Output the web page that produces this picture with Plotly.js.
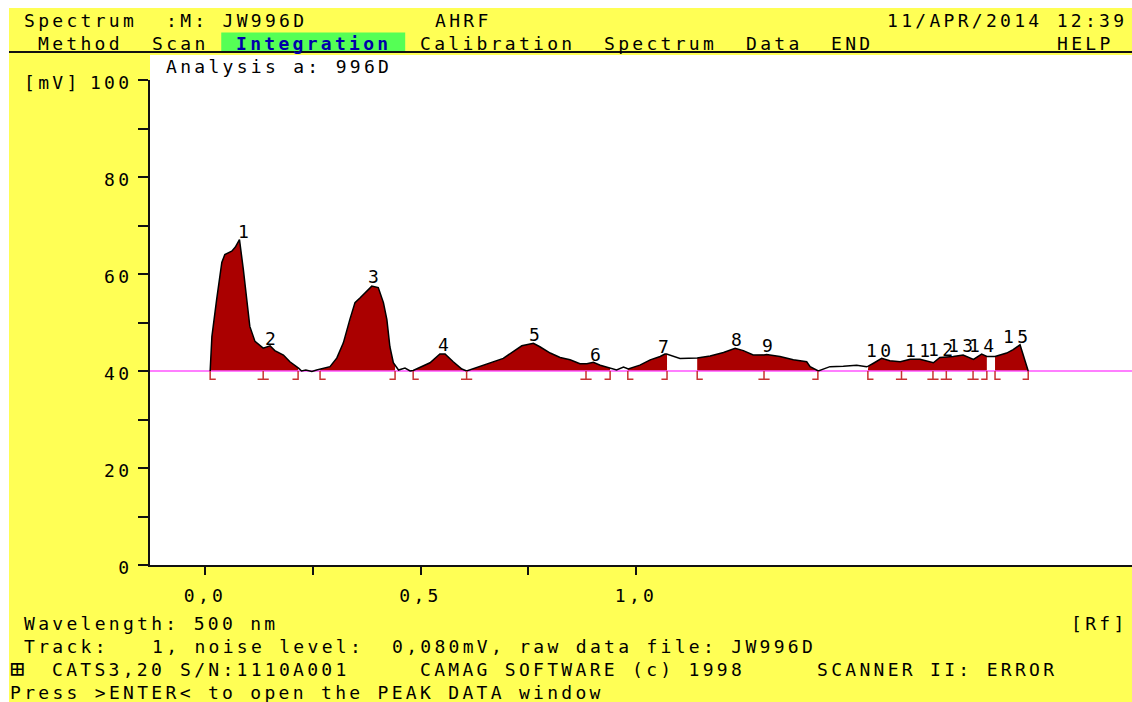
<!DOCTYPE html>
<html><head><meta charset="utf-8">
<script src="https://cdn.plot.ly/plotly-3.0.1.min.js"></script>
<style>
html,body{margin:0;padding:0;background:#ffffff;}
#chart{width:1132px;height:702px;}
text{letter-spacing:3.3px;}
</style></head><body><div id="chart"></div>
<script>
// ---- densitogram signal (Rf, mV) ----
const rf = [0.012,0.016,0.027,0.039,0.046,0.062,0.070,0.080,0.089,0.097,0.104,0.116,0.135,0.151,0.162,0.182,0.197,0.217,0.224,0.234,0.248,0.259,
0.290,0.306,0.321,0.336,0.348,0.360,0.375,0.387,0.402,0.414,0.422,0.429,0.437,0.449,0.464,0.476,
0.483,0.507,0.522,0.545,0.557,0.576,0.596,0.607,0.638,0.669,0.692,0.715,0.735,0.762,0.777,0.801,0.824,0.847,0.870,0.886,0.901,0.917,0.940,0.955,0.971,0.982,
1.009,1.033,1.056,1.067,1.071,1.102,1.142,1.172,1.203,1.230,1.249,1.272,1.297,1.303,1.334,1.365,1.396,1.404,1.423,1.450,1.481,1.512,1.535,
1.539,1.551,1.570,1.589,1.613,1.636,1.659,1.690,1.705,1.736,1.759,1.783,1.802,1.814,1.833,1.860,1.875,1.891,1.910];
const mv = [40.0,47.1,54.7,62.4,64.0,64.7,65.5,67.1,60.9,54.1,49.2,46.1,44.7,45.2,44.2,43.3,41.9,40.6,40.0,40.2,39.9,40.2,
40.9,42.7,45.8,50.6,54.1,55.1,56.4,57.5,57.2,54.1,50.6,45.0,41.7,40.2,40.6,40.0,
40.1,41.1,41.7,43.5,43.5,41.9,40.4,40.0,40.9,41.9,42.6,44.0,45.2,45.7,45.0,43.7,42.8,42.3,41.5,41.5,41.8,41.2,40.6,40.2,40.8,40.4,
41.2,42.3,43.0,43.5,43.5,42.6,42.7,43.1,43.8,44.7,44.2,43.3,43.3,43.4,43.0,42.3,41.9,40.9,40.0,40.9,41.0,41.2,40.9,
41.0,41.6,42.6,42.1,41.9,42.4,42.4,41.7,42.8,43.0,43.3,42.4,43.5,43.0,43.0,43.7,44.4,45.4,40.0];
const baselineMv = 40;

// peak boundaries: '[' start, ']' end, 'I' split between peaks
const boundRf   = [0.012,0.135,0.216,0.267,0.441,0.483,0.607,0.884,0.940,0.981,1.072,1.142,1.297,1.422,1.538,1.616,1.689,1.720,1.782,1.814,1.833,1.910];
const boundType = ['[','I',']','[',']','[','I','I',']','[',']','[','I',']','[','I','I','I','I',']','[',']'];

// peak numbers and their label positions
const peakNames   = ['1','2','3','4','5','6','7','8','9','10','11','12','13','14','15'];
const peakLabelRf = [0.093,0.156,0.394,0.557,0.768,0.910,1.067,1.237,1.309,1.566,1.657,1.710,1.756,1.805,1.884];
const peakLabelMv = [68.7,46.8,59.4,45.4,47.6,43.5,45.0,46.4,45.2,44.3,44.3,44.5,45.2,45.2,47.2];

// axes
const yTickVals = [0,10,20,30,40,50,60,70,80,90,100];
const yTickText = ['0','','20','','40','','60','','80','','100'];
const xTickVals = [0,0.25,0.5,0.75,1.0];
const xTickText = ['0,0','','0,5','','1,0'];

// screen text (column, text)
const rowTitle = [[1,'Spectrum'],[11,':M: JW996D'],[30,'AHRF'],[62,'11/APR/2014 12:39']];
const rowMenu  = [[2,'Method'],[10,'Scan'],[16,'Integration'],[29,'Calibration'],[42,'Spectrum'],[52,'Data'],[58,'END'],[74,'HELP']];
const rowAnalysis = [[11,'Analysis a: 996D']];
const rowUnit  = [[1,'[mV]']];
const rowWave  = [[1,'Wavelength: 500 nm'],[75,'[Rf]']];
const rowTrack = [[1,'Track:'],[10,'1, noise level:'],[27,'0,080mV, raw data file: JW996D']];
const rowSoft  = [[0,'\u229E'],[3,'CATS3,20'],[12,'S/N:1110A001'],[29,'CAMAG SOFTWARE (c) 1998'],[57,'SCANNER II: ERROR']];
const rowPress = [[0,'Press >ENTER< to open the PEAK DATA window']];
const activeMenu = 'Integration';

// ---- layout geometry ----
const W = 1132, H = 702, L = 150, R = 0, T = 80, B = 137;
const PW = W - L - R, PH = H - T - B;
const CELL = 14.15, COL0 = 9;
const px2x = p => (p - L) / PW;
const py2y = p => (H - B - p) / PH;
const colX = c => px2x(COL0 + c * CELL);
const xRange = [-0.1276, 2.1508];

const YELLOW = '#FFFF55', RED = '#AA0000', MAG = '#FF55FF', GREEN = '#55FF55', BLUE = '#0000AA';
const FONT = 'DejaVu Sans Mono';

function interp(x){
  for (let i = 0; i < rf.length - 1; i++){
    if (x >= rf[i] && x <= rf[i+1]){
      const t = (x - rf[i]) / (rf[i+1] - rf[i]);
      return mv[i] + t * (mv[i+1] - mv[i]);
    }
  }
  return baselineMv;
}

const traces = [];
// integrated areas: from each '[' to the next ']'
for (let i = 0; i < boundType.length; i++){
  if (boundType[i] !== '[') continue;
  let j = i + 1; while (boundType[j] !== ']') j++;
  const a = boundRf[i], b = boundRf[j];
  const xs = [a, a], ys = [baselineMv, interp(a)];
  rf.forEach((x, k) => { if (x > a && x < b){ xs.push(x); ys.push(mv[k]); } });
  xs.push(b, b); ys.push(interp(b), baselineMv);
  traces.push({x: xs, y: ys, type: 'scatter', mode: 'lines', fill: 'toself', fillcolor: RED,
               line: {width: 0, color: RED}, hoverinfo: 'skip', showlegend: false});
}
// baseline
traces.push({x: xRange, y: [baselineMv, baselineMv], type: 'scatter', mode: 'lines',
             line: {color: MAG, width: 1.5}, hoverinfo: 'skip', showlegend: false});
// signal
traces.push({x: rf, y: mv, type: 'scatter', mode: 'lines', line: {color: '#000', width: 1.5},
             hoverinfo: 'skip', showlegend: false});
// boundary marks
const markDepth = 1.7, markFoot = 0.013;
const bx = [], by = [];
boundRf.forEach((x, i) => {
  const yb = baselineMv - markDepth, t = boundType[i];
  if (t === '['){ bx.push(x, x, x + markFoot, null); by.push(baselineMv, yb, yb, null); }
  else if (t === ']'){ bx.push(x, x, x - markFoot, null); by.push(baselineMv, yb, yb, null); }
  else { bx.push(x, x, null, x - markFoot, x + markFoot, null); by.push(baselineMv, yb, null, yb, yb, null); }
});
traces.push({x: bx, y: by, type: 'scatter', mode: 'lines', line: {color: '#C83232', width: 1.5},
             hoverinfo: 'skip', showlegend: false, connectgaps: false});

// annotations
const annotations = [];
function addRow(parts, py){
  parts.forEach(([c, txt]) => {
    const act = txt === activeMenu;
    const big = txt === '\u229E';
    annotations.push({xref: 'paper', yref: 'paper', x: colX(c), y: py2y(py), xanchor: 'left', yanchor: 'middle',
      text: txt, showarrow: false, borderpad: 0,
      font: {family: FONT, size: big ? 24 : 18, color: act ? BLUE : '#000', weight: act ? 'bold' : 'normal'}});
  });
}
addRow(rowTitle, 20.5);
addRow(rowMenu, 43);
addRow(rowAnalysis, 66.3);
addRow(rowUnit, 82.6);
addRow(rowWave, 623);
addRow(rowTrack, 646);
addRow(rowSoft, 669);
addRow(rowPress, 692);
peakNames.forEach((n, i) => {
  annotations.push({xref: 'x', yref: 'y', x: peakLabelRf[i], y: peakLabelMv[i], text: n, showarrow: false,
    xanchor: 'center', yanchor: 'middle', borderpad: 0, font: {family: FONT, size: 18, color: '#000'}});
});

// highlight box of active menu entry
const activeCol = rowMenu.find(p => p[1] === activeMenu)[0];
const shapes = [
  {type: 'rect', xref: 'paper', yref: 'paper', x0: px2x(0), x1: 1, y0: py2y(8), y1: py2y(0), fillcolor: '#fff', line: {width: 0}, layer: 'below'},
  {type: 'rect', xref: 'paper', yref: 'paper', x0: px2x(0), x1: px2x(COL0), y0: py2y(H), y1: py2y(0), fillcolor: '#fff', line: {width: 0}, layer: 'below'},
  {type: 'rect', xref: 'paper', yref: 'paper', x0: 0, x1: 1, y0: 1, y1: py2y(55), fillcolor: '#fff', line: {width: 0}, layer: 'below'},
  {type: 'rect', xref: 'paper', yref: 'paper', x0: colX(activeCol - 1), x1: colX(activeCol - 1 + activeMenu.length + 2),
   y0: py2y(52), y1: py2y(32.5), fillcolor: GREEN, line: {width: 0}, layer: 'below'},
  {type: 'line', xref: 'paper', yref: 'paper', x0: px2x(COL0), x1: 1, y0: py2y(52), y1: py2y(52), line: {color: '#111', width: 2}}
];

const layout = {
  width: W, height: H, margin: {l: L, r: R, t: T, b: B, pad: 0},
  paper_bgcolor: YELLOW, plot_bgcolor: '#fff', showlegend: false,
  font: {family: FONT, size: 18, color: '#000'},
  xaxis: {range: xRange, showgrid: false, zeroline: false, showline: true, linecolor: '#111', linewidth: 2,
          ticks: 'outside', ticklen: 8, tickwidth: 2, tickcolor: '#111', tickmode: 'array',
          tickvals: xTickVals, ticktext: xTickText, ticklabelstandoff: 5,
          tickfont: {family: FONT, size: 18, color: '#000'}, fixedrange: true},
  yaxis: {range: [0, 100], showgrid: false, zeroline: false, showline: true, linecolor: '#111', linewidth: 2,
          ticks: 'outside', ticklen: 10, tickwidth: 2, tickcolor: '#111', tickmode: 'array',
          tickvals: yTickVals, ticktext: yTickText, ticklabelstandoff: 2, ticklabelshift: 3,
          tickfont: {family: FONT, size: 18, color: '#000'}, fixedrange: true},
  shapes: shapes, annotations: annotations
};
Plotly.newPlot('chart', traces, layout, {displayModeBar: false, staticPlot: true});
</script></body></html>
